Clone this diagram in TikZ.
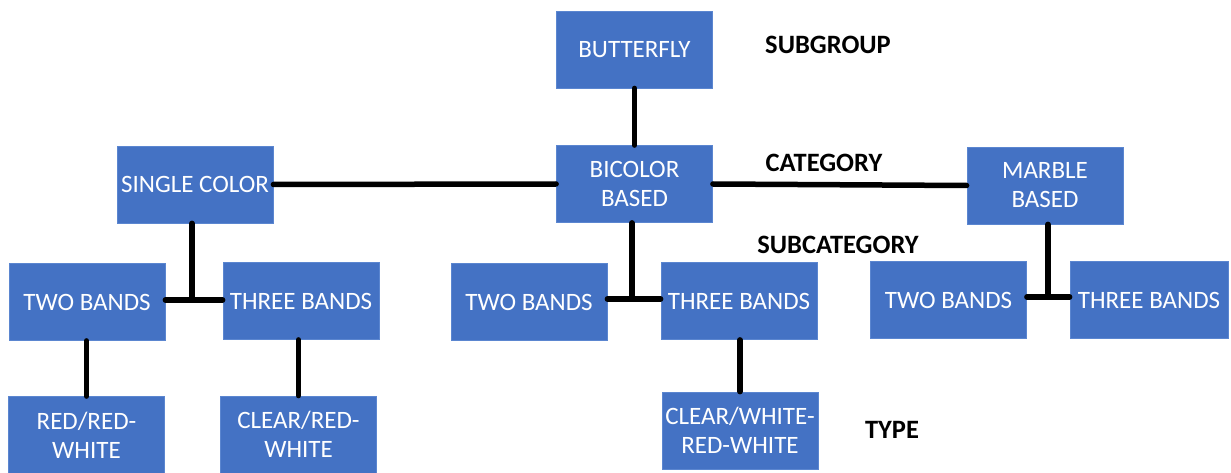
\documentclass[tikz,border=0pt]{standalone}
\usepackage{fontspec}
\setmainfont{Carlito}
\definecolor{boxblue}{HTML}{4472C4}
\definecolor{boxedge}{HTML}{5B86D0}
\begin{document}
\begin{tikzpicture}[x=1pt,y=-1pt,
  box/.style={draw=boxedge,line width=0.8pt,fill=boxblue,text=white,font=\fontsize{25}{29}\selectfont,
    minimum width=156pt,minimum height=77pt,inner sep=0pt,align=center},
  lbl/.style={font=\fontsize{26.5}{30}\selectfont\bfseries,text=black},
  conn/.style={line width=5.5pt,line cap=round,draw=black}]
\useasboundingbox (0,0) rectangle (1231,473);
\node[box] (butterfly) at (634.5,49.5) {BUTTERFLY};
\node[box] (bicolor) at (634.5,184) {BICOLOR\\BASED};
\node[box] (single) at (195,184.5) {SINGLE COLOR};
\node[box] (marble) at (1045,185.5) {MARBLE\\BASED};
\node[box] (twoL) at (87,302) {TWO BANDS};
\node[box] (threeL) at (301,301) {THREE BANDS};
\node[box] (twoM) at (529,302) {TWO BANDS};
\node[box] (threeM) at (739,301) {THREE BANDS};
\node[box] (twoR) at (948.5,300) {TWO BANDS};
\node[box,minimum width=158pt] (threeR) at (1149,300) {THREE BANDS};
\node[box] (redred) at (86.5,435) {RED/RED-\\WHITE};
\node[box] (clearred) at (298.5,434.5) {CLEAR/RED-\\WHITE};
\node[box] (clearwhite) at (740,430.5) {CLEAR/WHITE-\\RED-WHITE};
\node[lbl] (subgroup) at (828,45) {SUBGROUP};
\node[lbl] (category) at (824,163) {CATEGORY};
\node[lbl] (subcategory) at (838,245) {SUBCATEGORY};
\node[lbl] (type) at (892,430) {TYPE};
\draw[conn] (butterfly.south) -- (bicolor.north);
\draw[conn] (single.east) -- (bicolor.west);
\draw[conn] (bicolor.east) -- (marble.west);
\coordinate (jL) at (192,300);
\coordinate (jM) at (632,299);
\coordinate (jR) at (1048,297);
\draw[conn] (single.south -| jL) -- (jL);
\draw[conn] (twoL.east |- jL) -- (threeL.west |- jL);
\draw[conn] (bicolor.south -| jM) -- (jM);
\draw[conn] (twoM.east |- jM) -- (threeM.west |- jM);
\draw[conn] (marble.south -| jR) -- (jR);
\draw[conn] (twoR.east |- jR) -- (threeR.west |- jR);
\draw[conn] (twoL.south -| redred) -- (redred.north);
\draw[conn] (threeL.south -| clearred) -- (clearred.north);
\draw[conn] (threeM.south -| clearwhite) -- (clearwhite.north);
\end{tikzpicture}
\end{document}
